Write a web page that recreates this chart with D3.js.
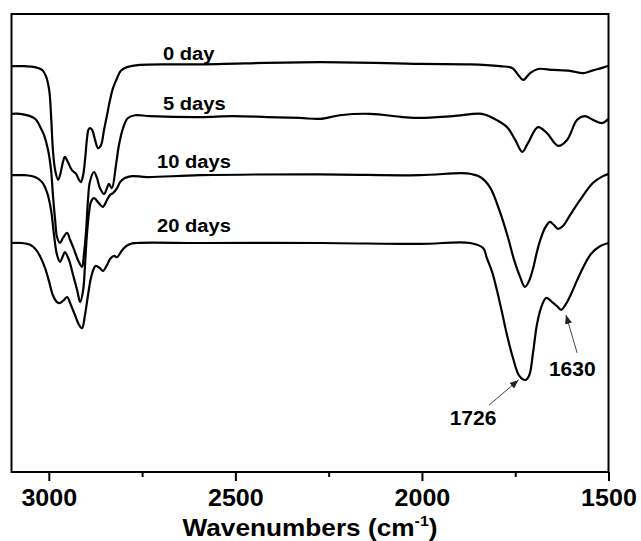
<!DOCTYPE html>
<html lang="en">
  <head>
    <meta charset="utf-8">
    <title>FTIR spectra</title>
    <style>
      body { margin: 0; background: #fff; }
      svg { display: block; font-family: Arial, 'Liberation Sans', sans-serif; font-weight: bold; }
    </style>
  </head>
  <body>
    <svg width="641" height="541"></svg>
    <script src="https://cdn.jsdelivr.net/npm/d3@7/dist/d3.min.js"></script>
    <script>
      // [wavenumber (cm-1), transmittance (a.u., offset)]
      const day0 = [[3100,88.6],[3064,88.6],[3037,88.4],[3018,87.8],[3008,86.5],[2999,83.4],[2994,77.9],
        [2989,70.3],[2983,65.9],[2975,63.8],[2970,64.8],[2962,67.7],[2957,68.8],[2949,67.7],[2938,65.9],
        [2927,65.1],[2919,63.8],[2914,63.3],[2908,64.8],[2903,68.1],[2898,72.5],[2894,74.7],[2890,75.1],
        [2884,74.7],[2876,72.5],[2868,70.7],[2860,71.4],[2852,74.7],[2844,77.9],[2836,81.2],[2828,83.8],
        [2817,86.0],[2807,87.6],[2790,88.4],[2756,88.9],[2595,89.0],[2273,89.5],[2005,89.1],[1871,89.0],
        [1791,88.6],[1758,88.2],[1742,86.7],[1729,85.6],[1710,87.1],[1689,88.0],[1649,87.8],[1603,87.6],
        [1568,87.1],[1542,87.7],[1515,88.3],[1500,88.7]];

      const day5 = [[3100,78.2],[3077,78.2],[3050,77.7],[3034,76.9],[3024,75.5],[3013,73.6],[3002,70.3],
        [2994,65.9],[2989,60.5],[2983,55.0],[2978,51.3],[2970,50.0],[2962,51.1],[2951,52.2],[2943,50.7],
        [2932,48.5],[2922,46.3],[2911,44.8],[2906,47.4],[2900,52.8],[2895,59.4],[2890,63.3],[2879,65.5],
        [2871,64.2],[2863,62.0],[2852,60.7],[2844,62.0],[2839,62.9],[2831,62.0],[2820,67.0],[2812,71.4],
        [2801,75.1],[2788,77.3],[2769,77.9],[2729,77.7],[2595,77.5],[2506,77.7],[2415,77.5],[2327,77.3],
        [2273,77.1],[2220,77.9],[2139,78.2],[2051,77.5],[2005,77.3],[1917,77.7],[1839,78.2],[1810,77.3],
        [1772,75.3],[1750,72.5],[1731,69.9],[1716,71.8],[1689,75.3],[1665,74.0],[1635,71.2],[1611,72.5],
        [1584,76.9],[1563,77.7],[1542,76.9],[1517,76.2],[1500,77.1]];

      const day10 = [[3100,64.8],[3064,64.8],[3037,64.4],[3018,63.3],[3005,61.1],[2994,57.2],[2986,51.7],
        [2978,47.4],[2970,45.9],[2962,47.2],[2957,48.0],[2946,46.3],[2935,43.0],[2924,39.7],[2916,37.1],
        [2908,39.7],[2903,45.2],[2898,51.7],[2892,56.8],[2887,59.0],[2879,59.8],[2866,58.7],[2855,57.9],
        [2844,59.4],[2836,60.5],[2828,60.9],[2817,62.0],[2809,63.3],[2796,64.2],[2777,64.6],[2737,64.4],
        [2595,64.8],[2273,65.0],[2005,64.8],[1879,65.2],[1844,64.4],[1818,62.2],[1791,56.8],[1769,51.1],
        [1753,46.3],[1737,42.6],[1724,40.4],[1713,41.7],[1702,44.5],[1692,48.0],[1681,51.1],[1670,53.3],
        [1657,54.6],[1646,53.9],[1635,53.1],[1622,53.7],[1603,56.1],[1576,59.4],[1542,63.1],[1515,64.6],
        [1500,65.1]];

      const day20 = [[3100,50.0],[3072,50.0],[3050,49.6],[3034,48.5],[3021,46.7],[3010,44.5],[2999,41.5],
        [2989,38.6],[2978,37.1],[2970,36.9],[2959,37.6],[2951,38.2],[2941,36.5],[2930,34.3],[2919,32.1],
        [2911,31.4],[2903,34.3],[2895,38.6],[2887,42.4],[2879,44.5],[2874,45.0],[2863,44.5],[2855,43.9],
        [2844,45.2],[2836,46.5],[2825,47.2],[2817,46.9],[2807,48.0],[2796,49.1],[2782,49.8],[2764,50.0],
        [2595,50.0],[2273,50.0],[2005,49.8],[1871,50.0],[1836,48.9],[1826,46.7],[1812,43.7],[1799,39.7],
        [1785,34.7],[1772,29.9],[1756,24.9],[1739,21.0],[1722,20.1],[1712,21.2],[1702,26.2],[1692,32.1],
        [1681,35.8],[1667,38.0],[1651,37.1],[1638,36.2],[1627,35.4],[1614,36.7],[1600,38.9],[1584,41.9],
        [1566,45.0],[1547,47.6],[1523,49.3],[1500,50.0]];

      const series = [day0, day5, day10, day20];
      const seriesNames = ['0 day', '5 days', '10 days', '20 days'];
      const seriesLabelAt = [[2694, 90.0], [2694, 79.0], [2710, 66.3], [2710, 52.5]];

      const xTicks = [3000, 2750, 2500, 2250, 2000, 1750, 1500];
      const xTickLabels = ['3000', '', '2500', '', '2000', '', '1500'];

      const peakNames = ['1726', '1630'];
      const peakTips = [[1741, 20.1], [1614, 34.3]];
      const peakTails = [[1820, 14.6], [1584, 26.0]];
      const peakTextAt = [[1863, 10.3], [1597, 21.0]];

      const margin = {top: 14, left: 11.5};
      const width = 597, height = 458;

      const svg = d3.select('svg');
      const g = svg.append('g').attr('transform', `translate(${margin.left},${margin.top})`);

      const x = d3.scaleLinear().domain([3100, 1500]).range([0, width]);
      const y = d3.scaleLinear().domain([0, 100]).range([height, 0]);

      svg.append('defs').append('clipPath').attr('id', 'plot')
        .append('rect').attr('width', width).attr('height', height);

      svg.select('defs').append('marker')
        .attr('id', 'arrow').attr('viewBox', '0 0 10 10')
        .attr('refX', 10).attr('refY', 5)
        .attr('markerWidth', 9).attr('markerHeight', 9)
        .attr('markerUnits', 'userSpaceOnUse')
        .attr('orient', 'auto')
        .append('path').attr('d', 'M0,1 L10,5 L0,9 Z').attr('fill', '#222');

      const line = d3.line()
        .x(d => x(d[0]))
        .y(d => y(d[1]))
        .curve(d3.curveCatmullRom.alpha(0.5));

      g.append('g').attr('clip-path', 'url(#plot)')
        .selectAll('path')
        .data(series).enter()
        .append('path')
        .attr('d', line)
        .attr('fill', 'none')
        .attr('stroke', '#000')
        .attr('stroke-width', 2.2)
        .attr('stroke-linejoin', 'round');

      // series labels
      g.selectAll('.slabel')
        .data(seriesNames).enter()
        .append('text')
        .attr('class', 'slabel')
        .attr('x', (d, i) => x(seriesLabelAt[i][0]))
        .attr('y', (d, i) => y(seriesLabelAt[i][1]))
        .attr('font-size', 19)
        .attr('transform', (d, i) => {
          const cx = x(seriesLabelAt[i][0]);
          return `translate(${cx},0) scale(1.06,1) translate(${-cx},0)`;
        })
        .text(d => d);

      // peak annotations
      g.selectAll('.arrow')
        .data(peakNames).enter()
        .append('line')
        .attr('x1', (d, i) => x(peakTails[i][0]))
        .attr('y1', (d, i) => y(peakTails[i][1]))
        .attr('x2', (d, i) => x(peakTips[i][0]))
        .attr('y2', (d, i) => y(peakTips[i][1]))
        .attr('stroke', '#444')
        .attr('stroke-width', 1)
        .attr('marker-end', 'url(#arrow)');

      g.selectAll('.plabel')
        .data(peakNames).enter()
        .append('text')
        .attr('x', (d, i) => x(peakTextAt[i][0]))
        .attr('y', (d, i) => y(peakTextAt[i][1]))
        .attr('text-anchor', 'middle')
        .attr('font-size', 21)
        .text(d => d);

      // x axis
      const xAxis = g.append('g')
        .attr('transform', `translate(0,${height})`)
        .call(d3.axisBottom(x)
          .tickValues(xTicks)
          .tickSize(9)
          .tickFormat((d, i) => xTickLabels[i]));
      xAxis.select('.domain').remove();
      xAxis.selectAll('.tick line')
        .attr('stroke', '#000')
        .attr('stroke-width', 2)
        .attr('y2', (d, i) => xTickLabels[i] ? 9 : 5);
      xAxis.selectAll('.tick text')
        .attr('y', 34)
        .attr('dy', 0)
        .attr('fill', '#000')
        .attr('font-size', 23)
        .attr('font-weight', 'bold')
        .attr('transform', 'scale(1.09,1)');
      xAxis.attr('font-family', null).attr('font-size', null);

      // frame
      g.append('rect')
        .attr('width', width)
        .attr('height', height)
        .attr('fill', 'none')
        .attr('stroke', '#000')
        .attr('stroke-width', 2);

      // axis title
      const title = g.append('text')
        .attr('text-anchor', 'middle')
        .attr('font-size', 23)
        .attr('transform', `translate(${width / 2},${height + 64}) scale(1.14,1)`);
      title.append('tspan').text('Wavenumbers (cm');
      title.append('tspan').attr('font-size', 14).attr('dy', -10).text('-1');
      title.append('tspan').attr('dy', 10).text(')');
    </script>
  </body>
</html>
